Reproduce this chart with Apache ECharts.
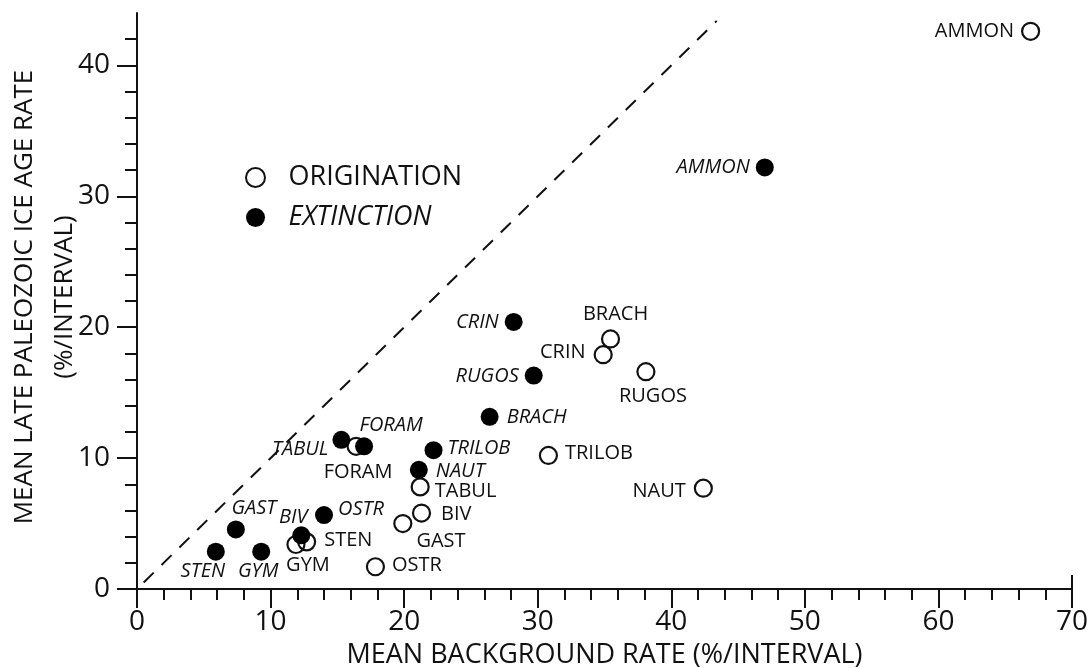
<!DOCTYPE html>
<html>
<head>
<meta charset="utf-8">
<script src="https://cdn.jsdelivr.net/npm/echarts@6/dist/echarts.min.js"></script>
<style>
html,body{margin:0;padding:0;background:#fff;}
#chart{width:1088px;height:668px;}
</style>
</head>
<body>
<div id="chart"></div>
<script>
// ---- data ----
const originNames = ['AMMON','BRACH','CRIN','RUGOS','TRILOB','NAUT','FORAM','TABUL','BIV','GAST','STEN','GYM','OSTR'];
const originX = [66.9, 35.45, 34.9, 38.1, 30.8, 42.4, 16.4, 21.2, 21.3, 19.9, 12.7, 11.9, 17.85];
const originY = [42.6, 19.1, 17.9, 16.6, 10.2, 7.7, 10.9, 7.8, 5.8, 5.0, 3.6, 3.4, 1.7];

const extinctNames = ['AMMON','CRIN','RUGOS','BRACH','FORAM','TABUL','TRILOB','NAUT','OSTR','GAST','BIV','STEN','GYM'];
const extinctX = [47.0, 28.2, 29.7, 26.4, 17.0, 15.3, 22.2, 21.1, 14.0, 7.4, 12.3, 5.9, 9.3];
const extinctY = [32.2, 20.4, 16.3, 13.15, 10.9, 11.4, 10.6, 9.1, 5.65, 4.55, 4.1, 2.85, 2.85];

const refLine = [[0.5, 0.5], [43.4, 43.4]];
const xMajorTicks = [0, 10, 20, 30, 40, 50, 60, 70];
const yMajorTicks = [0, 10, 20, 30, 40];
const yMinorTicks = [2,4,6,8,12,14,16,18,22,24,26,28,32,34,36,38,42];
const seriesNames = ['ORIGINATION', 'EXTINCTION'];
const xTitle = 'MEAN BACKGROUND RATE (%/INTERVAL)';
const yTitle = 'MEAN LATE PALEOZOIC ICE AGE RATE\n(%/INTERVAL)';

// ---- label placement (style) ----
const originPlace = {
  AMMON:['left',7,[0,0]], BRACH:['top',5,[5,0]], CRIN:['left',8,[0,-2]], RUGOS:['bottom',5,[7,0]],
  TRILOB:['right',7,[0,-2]], NAUT:['left',8,[0,3]], FORAM:['bottom',6,[2,0]], TABUL:['right',5,[0,4]],
  BIV:['right',10,[0,1]], GAST:['right',4,[0,18]], STEN:['right',8,[0,-2]], GYM:['bottom',1,[12,0]],
  OSTR:['right',7,[0,-1]]
};
const extinctPlace = {
  AMMON:['left',6,[0,0]], CRIN:['left',6,[0,0]], RUGOS:['left',6,[0,1]], BRACH:['right',8,[0,0]],
  FORAM:['top',2,[27,0]], TABUL:['left',4,[0,10]], TRILOB:['right',5,[0,-2]], NAUT:['right',8,[0,1]],
  OSTR:['right',5,[0,-6]], GAST:['top',2,[18,0]], BIV:['top',-1,[-8,0]], STEN:['bottom',1,[-13,0]],
  GYM:['bottom',1,[-3,0]]
};

const FONT = 'Open Sans';
const INK = '#111';

function buildPoints(names, xs, ys, place, italic) {
  return names.map((n, i) => {
    const p = place[n];
    return {
      name: n,
      value: [xs[i], ys[i]],
      label: {
        show: true, formatter: n, position: p[0], distance: p[1], offset: p[2],
        fontFamily: FONT, fontSize: 20, color: INK, fontStyle: italic ? 'italic' : 'normal'
      }
    };
  });
}

const chart = echarts.init(document.getElementById('chart'), null, {renderer: 'canvas'});
const axisCommon = {
  type: 'value', splitLine: {show: false}, minorTick: {show: false}, minorSplitLine: {show: false},
  nameMoveOverlap: false
};
const option = {
  backgroundColor: '#fff',
  animation: false,
  textStyle: {fontFamily: FONT, color: INK},
  grid: {left: 137, right: 16, top: 13, bottom: 79, containLabel: false, outerBoundsMode: 'none'},
  legend: {
    orient: 'vertical', left: 240, top: 159, itemWidth: 56, itemHeight: 19, itemGap: 13,
    selectedMode: false,
    data: [
      {name: seriesNames[0], textStyle: {fontStyle: 'normal'}},
      {name: seriesNames[1], textStyle: {fontStyle: 'italic'}}
    ],
    textStyle: {fontFamily: FONT, fontSize: 27, color: INK}
  },
  xAxis: [
    Object.assign({}, axisCommon, {
      min: 0, max: 70, interval: 10, position: 'bottom',
      axisLine: {show: true, onZero: false, lineStyle: {color: INK, width: 2}},
      axisTick: {show: true, length: 19, lineStyle: {color: INK, width: 2}, customValues: xMajorTicks},
      axisLabel: {show: true, fontFamily: FONT, fontSize: 28, color: INK, margin: 19, customValues: xMajorTicks},
      name: xTitle, nameLocation: 'middle', nameGap: 53,
      nameTextStyle: {fontFamily: FONT, fontSize: 27, color: INK}
    }),
    Object.assign({}, axisCommon, {
      min: 0, max: 70, interval: 2, position: 'bottom',
      axisLine: {show: false, onZero: false},
      axisTick: {show: true, length: 11, lineStyle: {color: INK, width: 2}},
      axisLabel: {show: false}
    }),
    Object.assign({}, axisCommon, {
      min: 0, max: 70, interval: 10, position: 'bottom',
      axisLine: {show: false, onZero: false},
      axisTick: {show: true, inside: true, length: 14, lineStyle: {color: INK, width: 2}, customValues: [70]},
      axisLabel: {show: false}
    })
  ],
  yAxis: [
    Object.assign({}, axisCommon, {
      min: 0, max: 44, interval: 10, position: 'left',
      axisLine: {show: true, onZero: false, lineStyle: {color: INK, width: 2}},
      axisTick: {show: true, length: 20, lineStyle: {color: INK, width: 2}, customValues: yMajorTicks},
      axisLabel: {show: true, fontFamily: FONT, fontSize: 28, color: INK, margin: 27, customValues: yMajorTicks},
      name: yTitle, nameLocation: 'middle', nameGap: 52,
      nameTextStyle: {fontFamily: FONT, fontSize: 26, color: INK, lineHeight: 40, align: 'center', padding: [0, 0, 0, 8]}
    }),
    Object.assign({}, axisCommon, {
      min: 0, max: 44, interval: 2, position: 'left',
      axisLine: {show: false, onZero: false},
      axisTick: {show: true, length: 12, lineStyle: {color: INK, width: 2}, customValues: yMinorTicks},
      axisLabel: {show: false}
    })
  ],
  series: [
    {
      name: 'ref', type: 'line', xAxisIndex: 0, yAxisIndex: 0, data: refLine,
      symbol: 'none', silent: true,
      lineStyle: {color: INK, width: 2, type: [14, 11]}
    },
    {
      name: seriesNames[0], type: 'scatter', xAxisIndex: 0, yAxisIndex: 0,
      symbol: 'circle', symbolSize: 17,
      itemStyle: {color: 'rgba(255,255,255,0)', borderColor: INK, borderWidth: 2.2, opacity: 1},
      emphasis: {disabled: true},
      data: buildPoints(originNames, originX, originY, originPlace, false),
      z: 3
    },
    {
      name: seriesNames[1], type: 'scatter', xAxisIndex: 0, yAxisIndex: 0,
      symbol: 'circle', symbolSize: 18,
      itemStyle: {color: '#000', borderWidth: 0, opacity: 1},
      emphasis: {disabled: true},
      data: buildPoints(extinctNames, extinctX, extinctY, extinctPlace, true),
      z: 4
    }
  ]
};
chart.setOption(option);
</script>
</body>
</html>
